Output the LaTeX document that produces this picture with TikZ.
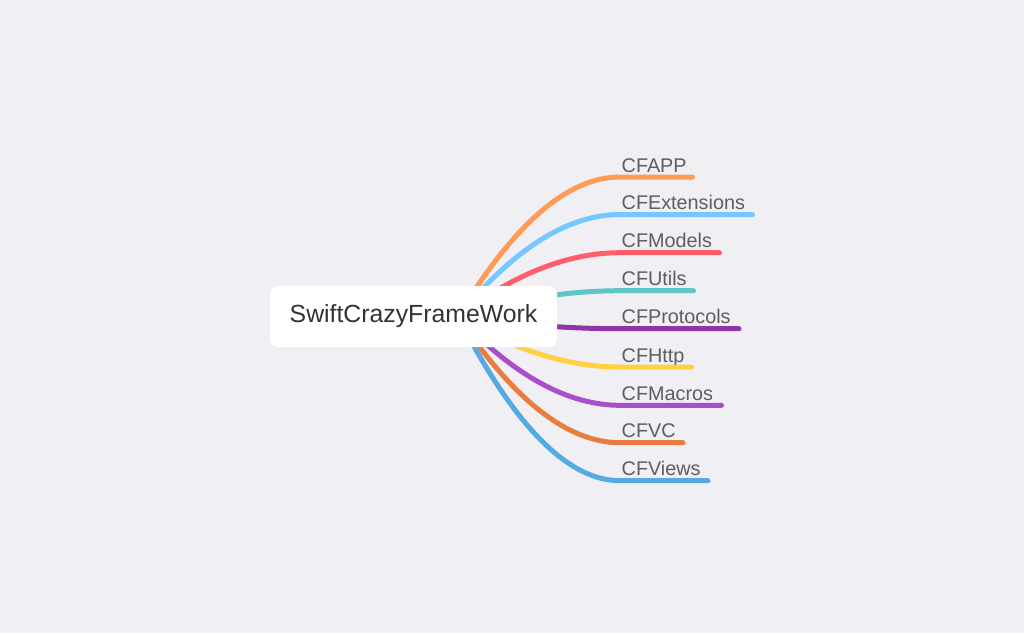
\documentclass[tikz,border=0pt]{standalone}
\usepackage{fontspec}
\setmainfont{Liberation Sans}
\usetikzlibrary{backgrounds}

\definecolor{bgcol}{HTML}{EFEFF4}
\definecolor{rootcol}{HTML}{333333}
\definecolor{labelcol}{HTML}{5E5E5E}
\definecolor{appcol}{HTML}{FF9A57}
\definecolor{extcol}{HTML}{74C7FF}
\definecolor{modcol}{HTML}{FF5D6A}
\definecolor{utilcol}{HTML}{5FC6C6}
\definecolor{protcol}{HTML}{8E35AA}
\definecolor{httpcol}{HTML}{FFD03F}
\definecolor{macrocol}{HTML}{AA4FC8}
\definecolor{vccol}{HTML}{E97D3F}
\definecolor{viewcol}{HTML}{55AAE2}

\tikzset{
	rootbox/.style={fill=white, rounded corners=8pt, minimum width=287pt, minimum height=61pt,
		inner sep=0pt, text=rootcol, font=\fontsize{24.8}{26}\selectfont},
	topic/.style={anchor=base west, inner sep=0pt, text=labelcol, font=\fontsize{19.8}{21}\selectfont},
	branch/.style={line width=5pt, line cap=round}
}

\begin{document}
\begin{tikzpicture}[x=1pt, y=-1pt]
			\useasboundingbox (0,0) rectangle (1024,633);

			\node[rootbox] (root) at (413.5,316.5) {SwiftCrazyFrameWork};
			\coordinate (hub) at ([xshift=44.5pt]root.center);

			% topics: name/text/line y/line end/colour
			\begin{scope}[on background layer]
			\fill[bgcol] (0,0) rectangle (1024,633);
			\foreach \n/\t/\y/\e/\c in {
					app/CFAPP/177/692.5/appcol,
					ext/CFExtensions/214.5/752.5/extcol,
					mod/CFModels/252.7/719.5/modcol,
					util/CFUtils/290.7/693.5/utilcol,
					prot/CFProtocols/328.7/739/protcol,
					http/CFHttp/367/691.5/httpcol,
					macro/CFMacros/405.3/721.5/macrocol,
					vc/CFVC/442.7/683/vccol,
					view/CFViews/480.7/708/viewcol}
			{
				\node[topic] (\n) at (621.5,\y-5) {\t};
				\coordinate (\n-end) at (\e,\y);
				\draw[branch,\c] (hub) .. controls +(56,{2/3*(\y-316.5)}) and +(-52,0)
					.. ([shift={(-1.5,5)}]\n.base west) -- (\n-end);
			}
			\end{scope}
		\end{tikzpicture}
\end{document}
